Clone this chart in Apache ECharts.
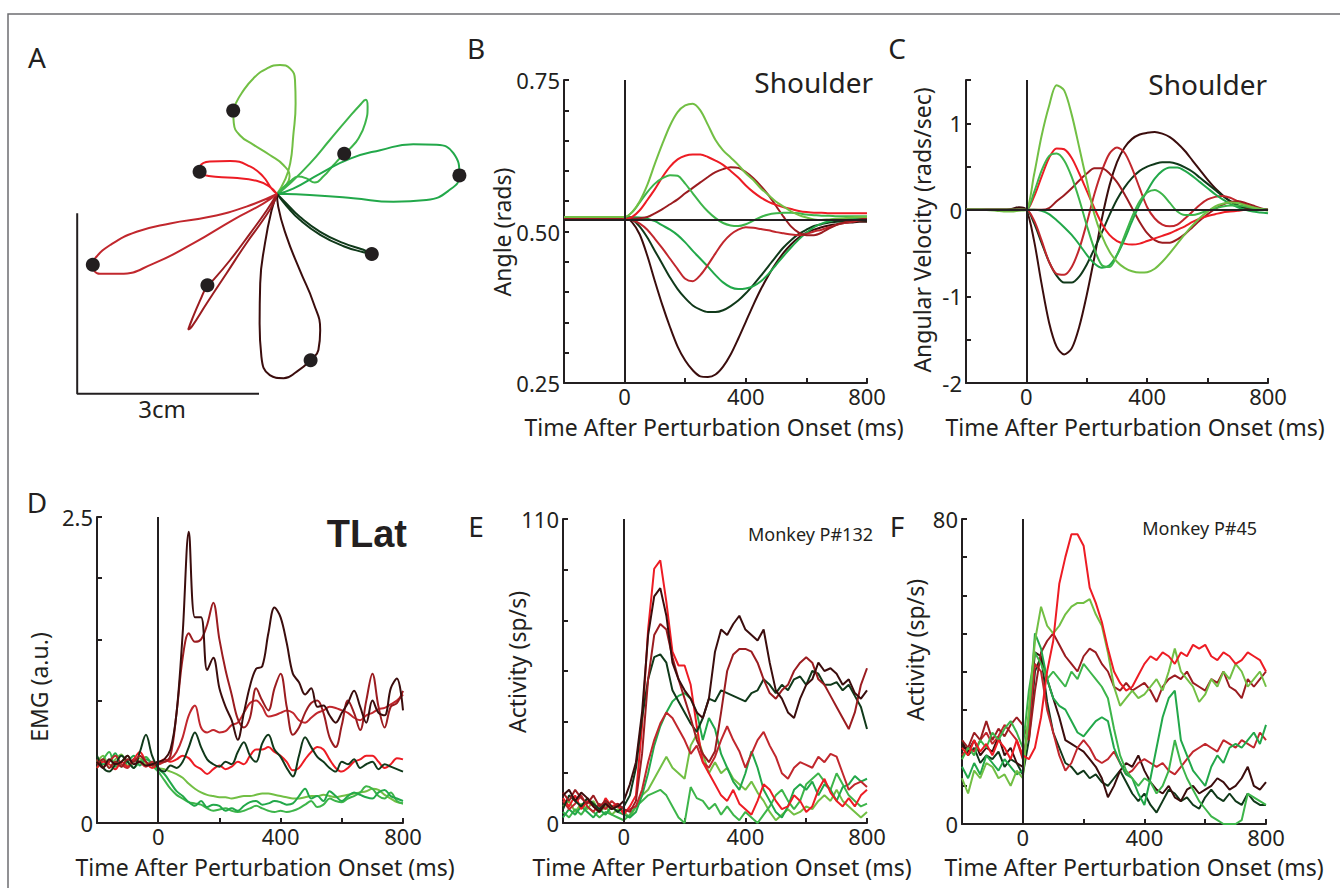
<!DOCTYPE html>
<html><head><meta charset="utf-8">
<script src="https://cdn.jsdelivr.net/npm/echarts@6/dist/echarts.min.js"></script>
<style>html,body{margin:0;padding:0;background:#fff}#c{width:1340px;height:888px}</style>
</head><body><div id="c"></div>
<script>
// ---------- colours of the 8 perturbation directions ----------
const C1='#ed1c24', C2='#c1272d', C3='#9b1c20', C4='#3b0d0d', C5='#10391a', C6='#22a84a', C7='#3db54a', C8='#72bf44';
const INK='#231f20';
const FONT="'Noto Sans', sans-serif";

// ---------- panel A : hand paths (cm) ----------
const pathA_C8=[[0,0],[0.13,0.23],[0.22,0.51],[0.27,0.96],[0.31,1.51],[0.30,1.90],[0.22,2.09],[0.05,2.15],[-0.17,2.09],[-0.39,1.93],[-0.59,1.68],[-0.70,1.48],[-0.73,1.39],[-0.72,1.18],[-0.62,0.98],[-0.39,0.82],[-0.12,0.65],[0.11,0.48],[0.21,0.29],[0.13,0.12],[0,0]];
const pathA_C7=[[0,0],[0.22,0.18],[0.55,0.51],[0.88,0.90],[1.16,1.23],[1.38,1.48],[1.48,1.57],[1.51,1.46],[1.47,1.18],[1.36,0.93],[1.22,0.76],[1.12,0.67],[0.94,0.48],[0.77,0.29],[0.63,0.19],[0.49,0.26],[0.36,0.29],[0.22,0.21],[0,0]];
const pathA_C6=[[0,0],[0.27,0.09],[0.72,0.34],[1.22,0.59],[1.72,0.73],[2.27,0.83],[2.66,0.82],[2.94,0.68],[3.04,0.31],[2.88,0.07],[2.49,-0.10],[1.94,-0.13],[1.27,-0.07],[0.61,-0.02],[0.16,0],[0,0]];
const pathA_C5=[[0,0],[0.16,-0.16],[0.38,-0.38],[0.72,-0.63],[1.11,-0.82],[1.44,-0.93],[1.58,-1.00],[1.44,-0.97],[1.11,-0.87],[0.72,-0.68],[0.38,-0.43],[0.16,-0.20],[0,0]];
const pathA_C4=[[0,0],[0.02,-0.21],[0.16,-0.71],[0.38,-1.27],[0.61,-1.82],[0.72,-2.27],[0.69,-2.60],[0.56,-2.77],[0.33,-2.96],[0.11,-3.07],[-0.12,-3.02],[-0.26,-2.71],[-0.29,-2.16],[-0.28,-1.49],[-0.20,-0.82],[-0.09,-0.27],[0,0]];
const pathA_C3=[[0,0],[-0.17,-0.27],[-0.45,-0.66],[-0.78,-1.10],[-1.06,-1.43],[-1.16,-1.52],[-1.28,-1.77],[-1.42,-2.10],[-1.48,-2.26],[-1.42,-2.21],[-1.17,-1.82],[-0.84,-1.32],[-0.51,-0.82],[-0.23,-0.43],[-0.06,-0.16],[0,0]];
const pathA_C2=[[0,0],[-0.51,-0.21],[-1.12,-0.38],[-1.78,-0.49],[-2.34,-0.63],[-2.78,-0.85],[-3.03,-1.07],[-3.07,-1.18],[-2.95,-1.33],[-2.62,-1.33],[-2.06,-1.16],[-1.39,-0.82],[-0.73,-0.43],[-0.23,-0.16],[0,0]];
const pathA_C1=[[0,0],[-0.09,0.09],[-0.23,0.29],[-0.45,0.46],[-0.78,0.55],[-1.12,0.54],[-1.28,0.46],[-1.29,0.37],[-1.14,0.30],[-0.73,0.27],[-0.34,0.22],[-0.12,0.12],[0,0]];
const dotsA=[[-0.73,1.39],[1.12,0.67],[3.04,0.31],[1.58,-1.00],[0.56,-2.77],[-1.16,-1.52],[-3.07,-1.18],[-1.29,0.37]];
const scaleBar=[[-3.33,-0.32],[-3.33,-3.33],[-0.30,-3.33]];

// ---------- panels B & C : time base (ms) ----------
const tBC=[-200,-150,-100,-75,-50,-25,0,25,50,75,100,125,150,175,200,225,250,275,300,325,350,375,400,425,450,475,500,525,550,575,600,625,650,675,700,725,750,775,800];
// B : shoulder angle (rad)
const angC8=[0.524,0.524,0.524,0.524,0.524,0.524,0.524,0.532,0.55,0.577,0.612,0.645,0.675,0.697,0.708,0.711,0.7,0.676,0.651,0.634,0.622,0.61,0.596,0.585,0.571,0.56,0.549,0.541,0.533,0.527,0.523,0.52,0.519,0.52,0.521,0.522,0.523,0.524,0.524];
const angC1=[0.519,0.519,0.519,0.519,0.519,0.519,0.52,0.524,0.535,0.552,0.57,0.59,0.607,0.619,0.625,0.627,0.627,0.623,0.617,0.61,0.6,0.589,0.576,0.565,0.556,0.549,0.544,0.54,0.537,0.534,0.532,0.531,0.531,0.53,0.53,0.53,0.53,0.53,0.53];
const angC3=[0.521,0.521,0.521,0.521,0.521,0.521,0.521,0.521,0.522,0.524,0.53,0.537,0.545,0.553,0.563,0.572,0.581,0.59,0.598,0.603,0.606,0.605,0.598,0.588,0.575,0.56,0.542,0.524,0.508,0.498,0.494,0.494,0.498,0.505,0.511,0.515,0.518,0.52,0.521];
const angC2=[0.52,0.52,0.52,0.52,0.52,0.52,0.521,0.519,0.513,0.503,0.488,0.472,0.455,0.438,0.422,0.418,0.428,0.445,0.464,0.482,0.495,0.503,0.507,0.506,0.504,0.502,0.499,0.497,0.495,0.494,0.496,0.5,0.503,0.507,0.511,0.514,0.516,0.518,0.519];
const angC7=[0.524,0.524,0.524,0.524,0.524,0.524,0.524,0.532,0.548,0.565,0.579,0.588,0.593,0.592,0.579,0.563,0.547,0.533,0.522,0.514,0.51,0.509,0.512,0.518,0.524,0.528,0.53,0.531,0.531,0.53,0.528,0.527,0.526,0.526,0.525,0.525,0.525,0.525,0.525];
const angC6=[0.524,0.524,0.524,0.524,0.524,0.524,0.524,0.524,0.523,0.521,0.517,0.51,0.503,0.494,0.482,0.468,0.455,0.442,0.428,0.416,0.408,0.405,0.406,0.41,0.418,0.43,0.445,0.46,0.474,0.487,0.498,0.507,0.513,0.517,0.52,0.521,0.522,0.522,0.522];
const angC5=[0.524,0.524,0.524,0.524,0.524,0.524,0.524,0.52,0.508,0.49,0.468,0.446,0.424,0.405,0.39,0.378,0.371,0.367,0.367,0.37,0.377,0.386,0.398,0.412,0.427,0.443,0.459,0.474,0.486,0.496,0.503,0.509,0.512,0.515,0.516,0.517,0.518,0.518,0.518];
const angC4=[0.524,0.524,0.524,0.524,0.524,0.524,0.524,0.515,0.495,0.46,0.418,0.378,0.342,0.31,0.287,0.271,0.261,0.26,0.264,0.277,0.297,0.323,0.351,0.379,0.405,0.428,0.448,0.465,0.479,0.49,0.498,0.503,0.507,0.51,0.512,0.514,0.515,0.516,0.516];
const angRef=0.524;
// C : shoulder angular velocity (rad/s)
const velC8=[0,0,-0.01,-0.02,-0.02,-0.01,0,0.4,0.85,1.2,1.44,1.38,1.1,0.72,0.33,-0.05,-0.3,-0.48,-0.6,-0.67,-0.71,-0.725,-0.72,-0.68,-0.6,-0.5,-0.39,-0.28,-0.18,-0.09,-0.02,0.04,0.07,0.085,0.08,0.055,0.03,0.01,-0.01];
const velC1=[0,0,0,0,0,0,0,0.15,0.38,0.6,0.71,0.7,0.6,0.42,0.22,0.02,-0.16,-0.29,-0.36,-0.39,-0.4,-0.39,-0.36,-0.33,-0.3,-0.27,-0.23,-0.19,-0.14,-0.1,-0.07,-0.05,-0.03,-0.02,-0.01,0,0,0,0];
const velC2=[0,0,0,0,0,0,0,-0.12,-0.35,-0.6,-0.74,-0.75,-0.66,-0.45,-0.15,0.18,0.45,0.65,0.72,0.66,0.48,0.25,0.03,-0.1,-0.17,-0.19,-0.17,-0.1,-0.02,0.06,0.12,0.15,0.16,0.14,0.1,0.06,0.03,0.01,0];
const velC3=[0,0,0,0,0,0,0,0,0,0.02,0.1,0.17,0.25,0.34,0.42,0.48,0.48,0.42,0.32,0.18,0.02,-0.14,-0.27,-0.35,-0.38,-0.38,-0.34,-0.28,-0.2,-0.12,-0.05,0.01,0.06,0.09,0.1,0.08,0.05,0.02,0];
const velC7=[0,0,0,0,0,0,0,0.2,0.45,0.62,0.65,0.57,0.38,0.12,-0.18,-0.45,-0.64,-0.66,-0.52,-0.3,-0.08,0.1,0.2,0.23,0.18,0.08,-0.02,-0.06,-0.06,-0.04,-0.01,0.02,0.04,0.05,0.05,0.04,0.02,0.01,0];
const velC6=[0,0,0,0,0,0,0,0,-0.01,-0.05,-0.12,-0.2,-0.29,-0.4,-0.52,-0.62,-0.67,-0.64,-0.52,-0.34,-0.13,0.06,0.22,0.36,0.45,0.49,0.49,0.45,0.39,0.32,0.25,0.18,0.12,0.07,0.03,0,-0.02,-0.03,-0.04];
const velC5=[0,0,0,0,0,0,0,-0.15,-0.38,-0.6,-0.76,-0.84,-0.84,-0.77,-0.63,-0.45,-0.26,-0.06,0.12,0.26,0.37,0.45,0.5,0.53,0.55,0.55,0.53,0.49,0.44,0.37,0.3,0.23,0.16,0.1,0.05,0.02,0.01,0,0];
const velC4=[0,0,0,0,0.01,0.03,0,-0.35,-0.85,-1.3,-1.58,-1.67,-1.6,-1.35,-0.98,-0.55,-0.1,0.28,0.55,0.72,0.82,0.87,0.89,0.9,0.88,0.84,0.77,0.68,0.57,0.46,0.35,0.25,0.17,0.1,0.05,0.02,0.01,0,0];
const velRef=0;

// ---------- panels D, E, F : time base (ms) ----------
const tN=[-200,-180,-160,-140,-120,-100,-80,-60,-40,-20,0,20,40,60,80,100,120,140,160,180,200,220,240,260,280,300,320,340,360,380,400,420,440,460,480,500,520,540,560,580,600,620,640,660,680,700,720,740,760,780,800];
// D : TLat EMG (a.u.)
const emgC4=[0.5,0.45,0.52,0.48,0.5,0.55,0.48,0.5,0.47,0.48, 0.5,0.52,0.6,0.9,1.55,2.38,1.68,1.68,1.25,1.35, 1.1,0.95,0.84,0.68,0.9,1.12,1.26,1.28,1.55,1.76, 1.68,1.47,1.22,1.15,1.05,1.1,0.95,0.96,0.88,0.82, 0.9,0.98,1.08,0.95,0.82,1.0,0.9,0.88,1.1,1.18, 0.92];
const emgC3=[0.48,0.52,0.45,0.5,0.46,0.52,0.5,0.55,0.5,0.47, 0.5,0.5,0.55,0.9,1.35,1.55,1.48,1.5,1.62,1.8, 1.5,1.25,1.05,0.85,0.78,0.86,1.1,1.0,0.92,1.1, 1.22,0.95,0.72,0.78,0.9,0.98,1.0,0.9,0.7,0.62, 0.8,1.0,0.9,0.76,1.0,1.22,0.95,0.78,0.95,0.98, 1.08];
const emgC2=[0.52,0.46,0.5,0.55,0.48,0.45,0.52,0.5,0.46,0.5, 0.48,0.5,0.52,0.58,0.7,0.88,0.96,0.78,0.74,0.76, 0.74,0.75,0.8,0.82,0.9,0.98,1.0,0.95,0.87,0.88, 0.9,0.92,0.9,0.84,0.82,0.86,0.9,0.92,0.95,0.94, 0.92,0.9,0.86,0.84,0.88,0.9,0.93,0.94,0.97,1.0, 1.05];
const emgC1=[0.45,0.5,0.48,0.44,0.5,0.46,0.52,0.58,0.5,0.45, 0.48,0.52,0.5,0.52,0.55,0.53,0.47,0.44,0.4,0.44, 0.47,0.44,0.46,0.5,0.48,0.55,0.6,0.6,0.62,0.58, 0.55,0.5,0.43,0.45,0.52,0.58,0.62,0.6,0.52,0.45, 0.42,0.45,0.5,0.52,0.55,0.55,0.5,0.45,0.48,0.53, 0.52];
const emgC5=[0.55,0.45,0.42,0.48,0.55,0.5,0.45,0.58,0.72,0.55, 0.45,0.42,0.47,0.45,0.5,0.62,0.74,0.62,0.52,0.48, 0.46,0.5,0.48,0.58,0.66,0.55,0.5,0.65,0.72,0.6, 0.54,0.45,0.38,0.55,0.7,0.62,0.54,0.5,0.45,0.42, 0.5,0.48,0.52,0.45,0.48,0.5,0.44,0.48,0.46,0.44, 0.42];
const emgC8=[0.5,0.55,0.45,0.52,0.56,0.47,0.5,0.53,0.48,0.5, 0.45,0.44,0.42,0.4,0.37,0.32,0.28,0.25,0.23,0.22, 0.21,0.21,0.2,0.21,0.22,0.22,0.23,0.24,0.24,0.23, 0.22,0.21,0.2,0.2,0.21,0.22,0.22,0.23,0.22,0.21, 0.22,0.23,0.24,0.25,0.26,0.28,0.27,0.23,0.2,0.17, 0.16];
const emgC7=[0.45,0.52,0.58,0.46,0.5,0.55,0.45,0.5,0.54,0.47, 0.42,0.35,0.28,0.23,0.2,0.17,0.16,0.15,0.12,0.1, 0.11,0.12,0.1,0.09,0.1,0.12,0.14,0.12,0.1,0.09, 0.1,0.09,0.1,0.12,0.15,0.18,0.13,0.15,0.2,0.18, 0.17,0.2,0.22,0.25,0.3,0.28,0.22,0.2,0.25,0.18, 0.16];
const emgC6=[0.52,0.48,0.5,0.57,0.46,0.5,0.55,0.47,0.52,0.49, 0.44,0.4,0.33,0.26,0.22,0.17,0.14,0.18,0.13,0.15, 0.14,0.1,0.12,0.1,0.14,0.17,0.18,0.15,0.16,0.18, 0.17,0.15,0.16,0.22,0.28,0.2,0.22,0.18,0.26,0.22, 0.18,0.22,0.25,0.23,0.21,0.2,0.25,0.27,0.22,0.2, 0.18];
// E : Monkey P#132 activity (sp/s)
const e132C1=[9,6,10,5,8,6,4,9,6,7, 3,6,10,35,70,92,95,80,62,57, 57,50,35,22,18,14,10,8,12,7, 5,3,8,14,12,8,5,6,10,8, 4,6,12,16,11,8,6,9,6,10, 12];
const e132C3=[11,8,12,9,7,10,6,8,5,7, 5,4,8,25,52,68,72,70,60,52, 45,38,30,25,22,26,40,55,61,63, 63,62,58,52,47,45,48,50,55,58, 60,58,52,50,46,42,38,34,40,50, 56];
const e132C4=[10,12,8,11,9,6,4,7,5,6, 8,14,22,40,68,82,85,75,58,52, 48,45,40,38,45,62,70,68,72,75, 70,68,66,70,58,48,45,40,38,45, 50,52,58,55,56,54,50,52,47,45, 48];
const e132C5=[5,10,8,6,9,7,5,8,6,4, 6,10,20,38,52,60,61,58,48,44, 40,36,33,38,45,44,48,47,46,45, 44,47,48,52,50,47,50,48,52,53, 50,55,54,50,50,51,48,50,46,42, 34];
const e132C2=[8,5,7,10,6,4,7,5,8,6, 4,5,6,12,22,30,36,40,38,34, 30,25,28,22,20,24,30,35,30,26, 20,25,30,33,28,24,18,16,20,22, 21,20,24,22,25,24,18,12,14,15, 13];
const e132C6=[2,5,3,6,4,2,5,3,6,4, 3,2,4,10,18,28,35,40,44,46, 47,45,40,30,38,34,25,20,15,12, 18,26,20,12,8,4,2,6,12,14, 12,15,10,14,12,8,13,14,17,15, 16];
const e132C8=[6,8,4,7,5,8,4,6,3,5, 4,2,6,10,12,16,20,24,20,18, 16,28,32,25,18,22,18,20,16,14, 12,15,11,8,4,1,3,5,3,4, 6,5,8,10,8,12,8,6,4,2, 4];
const e132C7=[4,2,5,3,6,4,2,4,3,2, 1,3,6,8,10,11,12,10,6,2, 0,13,9,8,5,7,3,6,3,1, 4,2,0,3,6,10,12,8,5,8, 14,16,18,15,12,18,14,10,8,6, 7];
// F : Monkey P#45 activity (sp/s)
const f45C1=[20,18,22,19,21,18,22,20,17,22, 18,17,20,28,40,48,63,70,76,76, 73,62,58,53,46,40,37,35,36,39, 42,44,43,45,44,42,45,44,47,46, 47,44,43,45,44,42,43,45,44,43, 40];
const f45C8=[12,8,14,12,16,15,12,13,10,14, 12,30,48,57,52,50,52,55,57,58, 58,59,55,52,45,36,31,33,35,33, 34,36,38,35,40,46,40,38,36,32, 34,38,36,40,38,42,40,36,38,40, 36];
const f45C3=[22,20,24,22,27,22,25,23,26,28, 26,22,35,45,48,50,47,44,42,40, 44,46,45,42,40,36,35,37,35,36, 37,35,32,36,38,39,38,40,37,36, 35,38,37,40,36,35,33,38,36,38, 40];
const f45C2=[18,20,19,22,24,21,23,26,24,22, 17,25,42,40,30,24,18,14,16,20, 22,20,17,16,17,19,16,13,14,16, 17,16,15,16,14,13,15,17,19,20, 21,20,19,22,21,20,22,21,20,24, 22];
const f45C4=[21,19,22,18,20,19,23,18,20,16, 15,28,45,44,38,33,28,22,21,20, 19,17,15,12,7,10,14,16,15,18, 14,11,9,8,10,7,6,9,10,8, 9,10,12,11,9,10,12,15,10,9, 11];
const f45C5=[22,18,20,16,18,17,19,15,17,16, 13,22,40,44,32,24,20,16,15,13, 14,12,13,11,10,12,14,11,8,6, 8,5,3,6,9,8,6,7,5,4, 7,9,7,6,8,6,5,8,6,5, 5];
const f45C6=[15,12,16,13,18,16,14,17,15,13, 14,28,50,46,38,33,31,30,27,24, 23,25,27,28,27,20,16,13,12,8, 5,12,20,28,33,35,22,18,14,12, 10,15,18,16,20,21,20,22,24,21, 26];
const f45C7=[17,20,18,22,20,24,22,25,27,24, 20,35,45,42,38,40,38,36,40,38, 42,40,38,36,33,25,18,14,12,10, 12,11,8,10,14,22,16,12,9,6, 4,2,1,0,0,0,1,8,7,6, 5];

// ---------- tick labels ----------
const xTickLabels=[0,400,800];
const yLabB=[0.25,0.5,0.75], yLabC=[-2,-1,0,1], yLabD=[0,2.5], yLabE=[0,110], yLabF=[0,80];

// ---------- build ----------
const grids=[
 {left:76,top:53,width:402,height:342},
 {left:564,top:80,width:303,height:303},
 {left:966,top:80,width:302,height:303},
 {left:97,top:517,width:306,height:306},
 {left:563,top:519,width:304,height:304},
 {left:962,top:519,width:304,height:305}
];
function pick(list,dec){return v=>{for(const l of list){if(Math.abs(v-l)<1e-6)return dec!=null?l.toFixed(dec):String(l);}return '';};}
const axLine={onZero:false,lineStyle:{color:INK,width:2}};
const axTick={inside:true,length:5,lineStyle:{color:INK,width:2}};
function xAx(g){return {gridIndex:g,type:'value',min:-200,max:800,interval:200,axisLine:axLine,axisTick:axTick,splitLine:{show:false},
 axisLabel:{formatter:pick(xTickLabels),fontSize:22,lineHeight:20,fontFamily:FONT,color:INK,margin:3,showMinLabel:true,showMaxLabel:true}};}
function yAx(g,min,max,interval,labels,dec){return {gridIndex:g,type:'value',min,max,interval,axisLine:axLine,axisTick:axTick,splitLine:{show:false},
 axisLabel:{formatter:pick(labels,dec),fontSize:22,lineHeight:20,fontFamily:FONT,color:INK,margin:4,showMinLabel:true,showMaxLabel:true}};}

const xAxis=[{gridIndex:0,type:'value',min:-3.35,max:3.35,show:false},xAx(1),xAx(2),xAx(3),xAx(4),xAx(5)];
const yAxis=[{gridIndex:0,type:'value',min:-3.35,max:2.35,show:false},
 yAx(1,0.25,0.75,0.05,yLabB,2),yAx(2,-2,1.5,0.5,yLabC),yAx(3,0,2.5,0.5,yLabD),yAx(4,0,110,110/6,yLabE),yAx(5,0,80,10,yLabF)];

function ts(g,t,vals,color,smooth){return {type:'line',xAxisIndex:g,yAxisIndex:g,data:t.map((x,i)=>[x,vals[i]]),symbol:'none',smooth:smooth,
 lineStyle:{color,width:2},itemStyle:{color},silent:true,z:2};}
function path(pts,color){return {type:'line',xAxisIndex:0,yAxisIndex:0,data:pts,symbol:'none',smooth:0.5,lineStyle:{color,width:2},itemStyle:{color},silent:true,z:2};}
function refLines(g,data){return {type:'line',xAxisIndex:g,yAxisIndex:g,data:[],silent:true,z:5,
 markLine:{silent:true,symbol:'none',animation:false,label:{show:false},lineStyle:{color:INK,width:2,type:'solid'},data}};}

const series=[
 path(pathA_C8,C8),path(pathA_C7,C7),path(pathA_C6,C6),path(pathA_C5,C5),path(pathA_C4,C4),path(pathA_C3,C3),path(pathA_C2,C2),path(pathA_C1,C1),
 {type:'line',xAxisIndex:0,yAxisIndex:0,data:scaleBar,symbol:'none',lineStyle:{color:INK,width:2},silent:true},
 {type:'scatter',xAxisIndex:0,yAxisIndex:0,data:dotsA,symbolSize:14,itemStyle:{color:INK,opacity:1},silent:true,z:4},
 // B
 ts(1,tBC,angC4,C4,0.3),ts(1,tBC,angC5,C5,0.3),ts(1,tBC,angC6,C6,0.3),ts(1,tBC,angC2,C2,0.3),ts(1,tBC,angC3,C3,0.3),ts(1,tBC,angC1,C1,0.3),ts(1,tBC,angC7,C7,0.3),ts(1,tBC,angC8,C8,0.3),
 refLines(1,[{xAxis:0},{yAxis:angRef}]),
 // C
 ts(2,tBC,velC4,C4,0.3),ts(2,tBC,velC5,C5,0.3),ts(2,tBC,velC2,C2,0.3),ts(2,tBC,velC3,C3,0.3),ts(2,tBC,velC1,C1,0.3),ts(2,tBC,velC6,C6,0.3),ts(2,tBC,velC7,C7,0.3),ts(2,tBC,velC8,C8,0.3),
 refLines(2,[{xAxis:0},{yAxis:velRef}]),
 // D
 ts(3,tN,emgC8,C8,0.35),ts(3,tN,emgC7,C7,0.35),ts(3,tN,emgC6,C6,0.35),ts(3,tN,emgC1,C1,0.35),ts(3,tN,emgC2,C2,0.35),ts(3,tN,emgC5,C5,0.35),ts(3,tN,emgC3,C3,0.35),ts(3,tN,emgC4,C4,0.35),
 refLines(3,[{xAxis:0}]),
 // E
 ts(4,tN,e132C8,C8,false),ts(4,tN,e132C7,C7,false),ts(4,tN,e132C6,C6,false),ts(4,tN,e132C2,C2,false),ts(4,tN,e132C1,C1,false),ts(4,tN,e132C5,C5,false),ts(4,tN,e132C3,C3,false),ts(4,tN,e132C4,C4,false),
 refLines(4,[{xAxis:0}]),
 // F
 ts(5,tN,f45C5,C5,false),ts(5,tN,f45C4,C4,false),ts(5,tN,f45C2,C2,false),ts(5,tN,f45C3,C3,false),ts(5,tN,f45C6,C6,false),ts(5,tN,f45C7,C7,false),ts(5,tN,f45C8,C8,false),ts(5,tN,f45C1,C1,false),
 refLines(5,[{xAxis:0}])
];

function txt(text,x,y,size,opts){opts=opts||{};return {type:'text',x,y,rotation:opts.rot||0,silent:true,z:10,
 style:{text,fill:INK,fontSize:size,lineHeight:Math.round(size*0.95),fontFamily:opts.family||FONT,fontWeight:opts.bold?'bold':'normal',textAlign:opts.align||'center',textVerticalAlign:'middle'}};}
const R=Math.PI/2;
const graphic=[
 {type:'rect',silent:true,z:0,shape:{x:8,y:14,width:1400,height:1000},style:{fill:'none',stroke:'#6d6e71',lineWidth:1.5}},
 txt('A',37,57,28),txt('B',476,48,28),txt('C',897,48,28),txt('D',37,502,28),txt('E',476,526,28),txt('F',897,526,28),
 txt('3cm',162,408,24),
 txt('Shoulder',873,82,28,{align:'right'}),txt('Shoulder',1267,84,28,{align:'right'}),
 txt('TLat',407,534,38,{align:'right',bold:true,family:"'Liberation Sans', Arial, sans-serif"}),
 txt('Monkey P#132',873,534,18,{align:'right'}),txt('Monkey P#45',1257,528,18,{align:'right'}),
 txt('Time After Perturbation Onset (ms)',714,427,23),txt('Time After Perturbation Onset (ms)',1135,427,23),
 txt('Time After Perturbation Onset (ms)',265,867,23),txt('Time After Perturbation Onset (ms)',722,867,23),txt('Time After Perturbation Onset (ms)',1134,867,23),
 txt('Angle (rads)',502,232,23,{rot:R}),txt('Angular Velocity (rads/sec)',922,230,23,{rot:R}),
 txt('EMG (a.u.)',39,687,23,{rot:R}),txt('Activity (sp/s)',517,662,23,{rot:R}),txt('Activity (sp/s)',915,650,23,{rot:R})
];

const chart=echarts.init(document.getElementById('c'),null,{renderer:'svg',width:1340,height:888});
chart.setOption({animation:false,backgroundColor:'#fff',grid:grids,xAxis,yAxis,series,graphic});
</script></body></html>
